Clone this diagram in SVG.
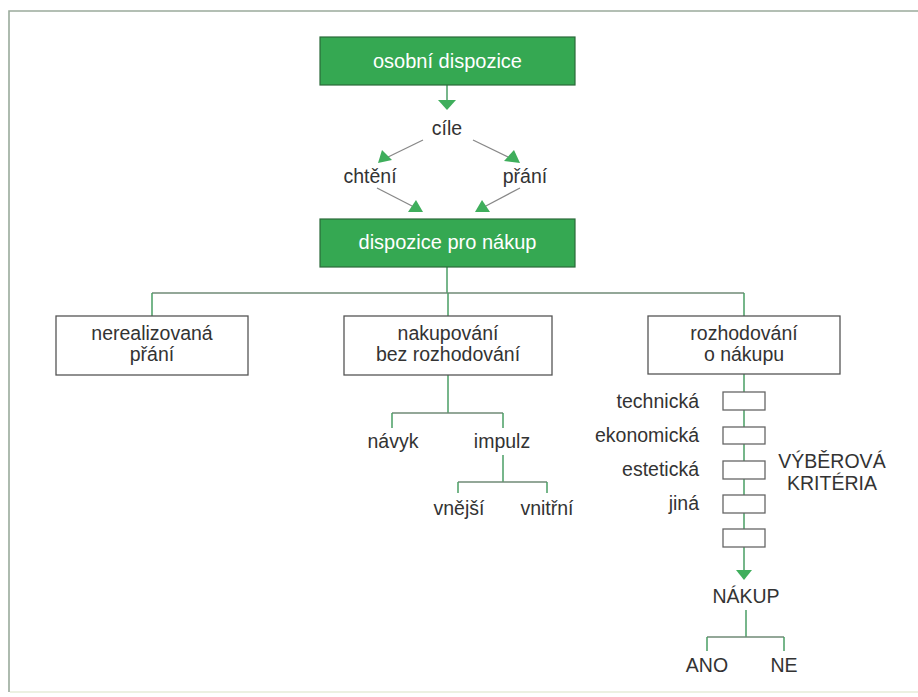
<svg xmlns="http://www.w3.org/2000/svg" width="918" height="697" viewBox="0 0 918 697">
<defs>
<style>
text{font-family:"Liberation Sans",Arial,sans-serif;font-size:19.5px;fill:#333;text-anchor:middle}
.gbox{fill:#35a852;stroke:#2b6a3a;stroke-width:1.2}
.gtxt{fill:#fff}
.wbox{fill:#fff;stroke:#555;stroke-width:1.3}
.sbox{fill:#fff;stroke:#666;stroke-width:1.3}
.v{stroke:#4a9e64;stroke-width:1.5;fill:none}
.h{stroke:#6f8a76;stroke-width:1.5;fill:none}
.d{stroke:#888;stroke-width:1.3;fill:none}
.ah{fill:#3fae5c}
.r{text-anchor:end}
</style>
</defs>
<rect x="0" y="0" width="918" height="697" fill="#fff"/>
<path d="M9,692 V11 H918" fill="none" stroke="#9aab9c" stroke-width="1.6"/>
<path d="M10,692 H918" fill="none" stroke="#e6ecd8" stroke-width="1.5"/>

<g id="connectors">
<path class="v" d="M447,85 V101"/>
<polygon class="ah" points="438,100 456,100 447,110"/>
<path class="d" d="M423,140 L386,158"/>
<polygon class="ah" points="378,163 382,150 392,160"/>
<path class="d" d="M473,140 L510,158"/>
<polygon class="ah" points="520,163 504,161 514,150"/>
<path class="d" d="M377,188 L414,207"/>
<polygon class="ah" points="423,212 408,212 416,200"/>
<path class="d" d="M520,188 L484,207"/>
<polygon class="ah" points="475,212 482,200 490,212"/>
<path class="v" d="M447,267 V293"/>
<path class="h" d="M152,293 H744"/>
<path class="v" d="M152,293 V316 M448,293 V316 M744,293 V316"/>
<path class="v" d="M448,375 V413"/>
<path class="h" d="M392,413 H503"/>
<path class="v" d="M392,413 V428 M503,413 V428"/>
<path class="v" d="M503,455 V482"/>
<path class="h" d="M458,482 H547"/>
<path class="v" d="M458,482 V493 M547,482 V493"/>
<path class="v" d="M744,374 V392 M744,410 V427 M744,444 V461 M744,479 V495 M744,513 V529 M744,547 V571"/>
<polygon class="ah" points="736,570 752,570 744,580"/>
<path class="v" d="M746,610 V637"/>
<path class="h" d="M707,637 H784"/>
<path class="v" d="M707,637 V651 M784,637 V651"/>
</g>

<g id="osobni-dispozice">
<rect class="gbox" x="320" y="37" width="255" height="48"/>
<text class="gtxt" x="447.5" y="68" style="font-size:20px">osobní dispozice</text>
</g>
<g id="cile"><text x="447" y="135">cíle</text></g>
<g id="chteni"><text x="370" y="183">chtění</text></g>
<g id="prani"><text x="525" y="183">přání</text></g>
<g id="dispozice-pro-nakup">
<rect class="gbox" x="320" y="219" width="255" height="48"/>
<text class="gtxt" x="447.5" y="249" style="font-size:20px">dispozice pro nákup</text>
</g>
<g id="nerealizovana-prani">
<rect class="wbox" x="56" y="316" width="192" height="59"/>
<text x="152" y="340">nerealizovaná</text>
<text x="152" y="361">přání</text>
</g>
<g id="nakupovani-bez-rozhodovani">
<rect class="wbox" x="344" y="316" width="208" height="59"/>
<text x="448" y="340">nakupování</text>
<text x="448" y="361">bez rozhodování</text>
</g>
<g id="rozhodovani-o-nakupu">
<rect class="wbox" x="648" y="316" width="192" height="58"/>
<text x="744" y="340">rozhodování</text>
<text x="744" y="361">o nákupu</text>
</g>
<g id="navyk"><text x="393" y="448">návyk</text></g>
<g id="impulz"><text x="502" y="448">impulz</text></g>
<g id="vnejsi"><text x="459" y="515">vnější</text></g>
<g id="vnitrni"><text x="547" y="515">vnitřní</text></g>
<g id="kriteria">
<rect class="sbox" x="723" y="392" width="42" height="18"/>
<rect class="sbox" x="723" y="427" width="42" height="17"/>
<rect class="sbox" x="723" y="461" width="42" height="18"/>
<rect class="sbox" x="723" y="495" width="42" height="18"/>
<rect class="sbox" x="723" y="529" width="42" height="18"/>
<text class="r" x="699" y="408">technická</text>
<text class="r" x="699" y="442">ekonomická</text>
<text class="r" x="699" y="476">estetická</text>
<text class="r" x="699" y="510">jiná</text>
</g>
<g id="vyberova-kriteria">
<text x="832" y="468">VÝBĚROVÁ</text>
<text x="832" y="490">KRITÉRIA</text>
</g>
<g id="nakup"><text x="746" y="603">NÁKUP</text></g>
<g id="ano"><text x="707" y="672">ANO</text></g>
<g id="ne"><text x="784" y="672">NE</text></g>
</svg>
